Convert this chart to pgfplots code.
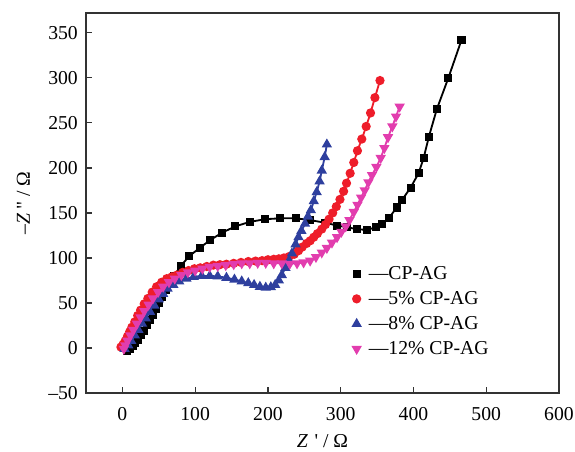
\documentclass[border=0pt]{standalone}
\usepackage{fontspec}
\setmainfont{Liberation Serif}
\usepackage{pgfplots}
\pgfplotsset{compat=1.18}

\definecolor{cpred}{HTML}{EE1D2A}
\definecolor{cpblue}{HTML}{2E3F9E}
\definecolor{cppink}{HTML}{E23DAE}

\begin{document}
\begin{tikzpicture}
\begin{axis}[
  width=11.825cm, height=9.5cm, scale only axis,
  xmin=-50, xmax=600, ymin=-50, ymax=372,
  xtick={0,100,...,600}, ytick={-50,0,...,350},
  xtick pos=bottom, ytick pos=left, tick align=inside,
  major tick length=4.5pt,
  axis line style={draw=black!80, line width=1pt},
  every tick/.style={black!80, line width=0.9pt},
  font=\fontsize{14}{16}\selectfont,
  /pgf/number format/assume math mode=true,
  yticklabel={\ifdim\tick pt<0pt \pgfmathparse{-\tick}\textendash\pgfmathprintnumber{\pgfmathresult}\else\pgfmathprintnumber{\tick}\fi},
  xticklabel style={anchor=base, yshift=-6.75mm},
  yticklabel style={xshift=-0.8mm},
  xlabel={\textit{Z}\,\,\textquotesingle\ /\ Ω},
  ylabel={\textendash\textit{Z}\,\textquotedbl\ /\ Ω},
  every axis x label/.style={at={(rel axis cs:0.5,0)}, anchor=base, yshift=-13.5mm},
  every axis y label/.style={at={(rel axis cs:0,0.5)}, rotate=90, anchor=base, yshift=14mm},
  legend style={draw=none, fill=none, at={(rel axis cs:0.555,0.349)}, anchor=north west,
    row sep=3pt, font=\fontsize{14}{16}\selectfont},
  legend image code/.code={\draw[#1,/tikz/only marks] plot coordinates {(0.25cm,0cm)}; \path (0.46cm,0cm);},
  legend cell align=left,
  every axis plot/.append style={line width=1.3pt, mark size=2.6pt},
]
\addplot[black, mark=square*, mark size=2.2pt] coordinates {
(6,-3)(10,-1)(14,2)(18,5)(22,9)(26,14)(30,19)(34,25)(38,31)(42,37)(46,43)(50,50)
(55,57)(60,64)(65,71)(71,80)(80,91)(92,102)(106,111)(121,120)(137,128)(155,135)
(175,140)(196,143)(217,144)(238,144)(258,142)(279,139)(295,136)(309,134)(322,132)
(336,131)(348,134)(357,138)(366,144)(377,156)(384,164)(396,178)(407,194)(414,211)
(421,234)(432,265)(448,300)(466,342)};
\addlegendentry{—CP-AG}
\addplot[cpred, mark=*] coordinates {
(-2,1)(1,4)(4,8)(7,13)(10,18)(13,23)(17,29)(21,36)(25,42)(30,49)(35,55)(41,62)
(47,68)(54,73)(61,77)(68,79)(75,81)(83,84)(91,86)(99,88)(107,89)(116,90.5)(125,92)
(134,92.5)(143,93)(153,94)(163,95)(173,96)(183,96.5)(192,97)(200,98)(208,98.5)
(215,99)(222,100)(229,101.5)(236,104)(242,108)(247,112)(253,116)(258,119)(263,123)
(268,127)(274,132)(279,137)(284,143)(289,150)(294,157)(299,165)(304,174)(308,183)
(313,194)(318,206)(323,219)(329,232)(335,246)(341,261)(347,278)(354,297)};
\addlegendentry{—5\% CP-AG}
\addplot[cpblue, mark=triangle*, mark size=3pt] coordinates {
(3,-1)(8,3)(12,8)(17,14)(22,20)(27,27)(32,33)(38,40)(44,47)(50,54)(56,60)(62,66)
(70,70)(78,74)(88,77)(98,79)(109,80)(120,80)(131,79.5)(143,78)(154,76)(164,74)
(173,72)(181,70)(189,68)(197,67)(204,67.5)(210,70)(215,75)(219,81)(224,89)(229,97)
(233,105)(238,115)(242,123)(246,130)(251,138)(255,146)(259,153)(263,163)(267,173)
(271,185)(274,197)(278,212)(281,226)};
\addlegendentry{—8\% CP-AG}
\addplot[cppink, mark=triangle*, mark size=3pt, mark options={rotate=180}] coordinates {
(2,-1)(4,3)(7,8)(11,14)(15,20)(20,27)(25,34)(30,41)(36,48)(42,55)(49,62)(56,68)
(64,73)(72,77)(81,81)(90,84)(100,86)(110,88)(120,90)(131,91)(142,92)(153,93)(164,94)
(175,94)(186,94.5)(197,94.5)(208,94)(219,94)(230,93.5)(240,94)(249,95)(258,97)
(266,101)(274,106)(281,111)(288,117)(295,123)(301,129)(307,135)(312,142)(318,151)
(323,159)(328,167)(333,175)(338,184)(343,192)(349,201)(355,211)(360,222)(365,234)
(371,246)(376,257)(381,268)};
\addlegendentry{—12\% CP-AG}
\end{axis}
\pgfresetboundingbox
\path ([shift={(-21.5mm,-14.5mm)}]current axis.south west) rectangle ([shift={(4mm,3.25mm)}]current axis.north east);
\end{tikzpicture}
\end{document}
